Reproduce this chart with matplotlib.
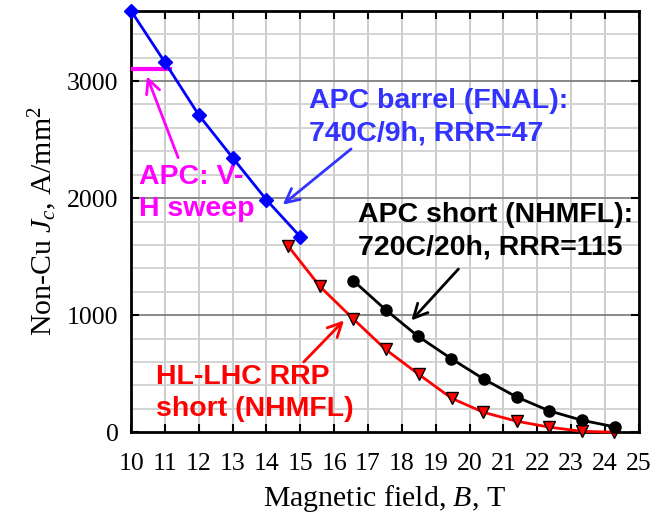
import matplotlib
matplotlib.use("Agg")
import matplotlib.pyplot as plt
from matplotlib.ticker import MultipleLocator

# APC barrel (FNAL): 740C/9h, RRR=47
b_barrel = [10, 11, 12, 13, 14, 15]
jc_barrel = [3600, 3160, 2710, 2345, 1985, 1670]

# APC short (NHMFL): 720C/20h, RRR=115
b_short = [16.56, 17.52, 18.47, 19.46, 20.42, 21.39, 22.36, 23.32, 24.3]
jc_short = [1296, 1046, 821, 628, 454, 301, 182, 102, 45]

# HL-LHC RRP short (NHMFL)
b_rrp = [14.63, 15.58, 16.56, 17.52, 18.5, 19.47, 20.41, 21.39, 22.36, 23.31, 24.28]
jc_rrp = [1594, 1245, 969, 707, 494, 290, 170, 94, 43, 8, 0]

# APC: V-H sweep
b_vh = [10.0, 11.2]
jc_vh = [3100, 3100]

SANS = "Liberation Sans"
plt.rcParams["font.family"] = "Liberation Serif"
plt.rcParams["mathtext.fontset"] = "custom"
plt.rcParams["mathtext.it"] = "Liberation Serif:italic"
plt.rcParams["mathtext.rm"] = "Liberation Serif"

fig = plt.figure(figsize=(6.62, 5.17), dpi=100)
ax = fig.add_axes([0.198, 0.164, 0.767, 0.815])

ax.set_xlim(10, 25)
ax.set_ylim(0, 3600)

# grid: light every 1 T / 200 A/mm2, darker every 1000
for x in range(11, 25):
    ax.axvline(x, color="#c8c8c8", lw=1.3, zorder=0)
for y in range(200, 3600, 200):
    if y % 1000:
        ax.axhline(y, color="#d0d0d0", lw=1.3, zorder=0)
    else:
        ax.axhline(y, color="#808080", lw=1.3, zorder=0)

ax.plot(b_vh, jc_vh, color="#ff00ff", lw=3, solid_capstyle="butt", zorder=3)
ax.plot(b_barrel, jc_barrel, color="#0000ff", lw=2, marker="D", ms=7,
        clip_on=False, zorder=4)
ax.plot(b_rrp, jc_rrp, color="#ff0000", lw=2, marker="v", ms=8,
        mfc="#ff0000", mec="black", mew=1, clip_on=False, zorder=4)
ax.plot(b_short, jc_short, color="black", lw=2, marker="o", ms=8,
        clip_on=False, zorder=5)

ax.xaxis.set_major_locator(MultipleLocator(1))
ax.yaxis.set_major_locator(MultipleLocator(1000))
ax.tick_params(direction="in", top=True, right=True, length=6, width=1.5,
               labelsize=18.5)
ax.tick_params(axis="x", pad=15)
ax.tick_params(axis="y", pad=9)
for s in ax.spines.values():
    s.set_linewidth(2)

ax.set_xlabel("Magnetic field, $B$, T", fontsize=21.5, labelpad=6)
ax.set_ylabel("Non-Cu $J_c$, A/mm$^2$", fontsize=21.5, labelpad=6)

tkw = dict(fontsize=20.5, fontweight="bold", family=SANS, linespacing=1.3,
           ha="left", va="center")
ax.text(15.25, 2690, "APC barrel (FNAL):\n740C/9h, RRR=47", color="#3333ff", **tkw)
ax.text(16.7, 1715, "APC short (NHMFL):\n720C/20h, RRR=115", color="black", **tkw)
ax.text(10.74, 333, "HL-LHC RRP\nshort (NHMFL)", color="#ff0000", **tkw)
ax.text(10.22, 2040, "APC: V-\nH sweep", color="#ff00ff", **tkw)


def arrow(head, tail, color):
    ax.annotate("", xy=head, xytext=tail,
                arrowprops=dict(arrowstyle="->", color=color, lw=2,
                                mutation_scale=25, shrinkA=0, shrinkB=0))


arrow((14.48, 1944), (16.5, 2420), "#3333ff")
arrow((18.28, 955), (19.67, 1394), "black")
arrow((16.29, 955), (15.1, 600), "#ff0000")
arrow((10.47, 3040), (11.39, 2346), "#ff00ff")

fig.savefig("out.png", dpi=100)
